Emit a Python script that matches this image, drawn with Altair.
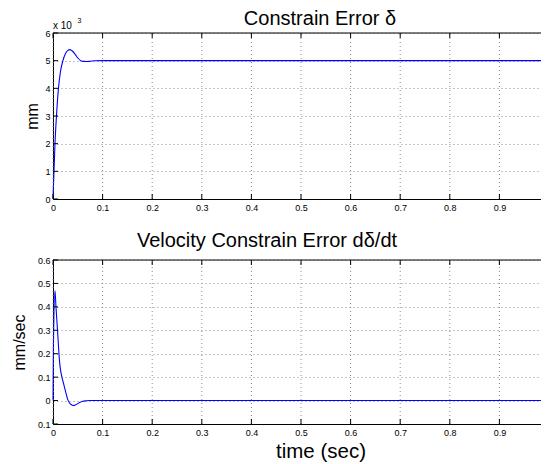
import altair as alt
import pandas as pd

# ---------------- data ----------------
t_pos = [0.0, 0.002, 0.004, 0.007, 0.011, 0.015, 0.020, 0.025, 0.030, 0.034,
         0.039, 0.045, 0.050, 0.056, 0.062, 0.068, 0.075, 0.085, 0.100, 1.0]
err_pos = [0.0, 1.0, 2.0, 3.0, 4.0, 4.6, 5.0, 5.25, 5.37, 5.40,
           5.35, 5.22, 5.10, 5.00, 4.975, 4.97, 4.98, 4.995, 5.0, 5.0]

t_vel = [0.0, 0.001, 0.004, 0.006, 0.008, 0.010, 0.012, 0.014, 0.016, 0.018,
         0.021, 0.024, 0.027, 0.030, 0.033, 0.037, 0.041, 0.045, 0.050, 0.055,
         0.060, 0.067, 0.075, 1.0]
err_vel = [0.0, 0.25, 0.47, 0.40, 0.335, 0.27, 0.20, 0.15, 0.12, 0.10,
           0.075, 0.05, 0.025, 0.003, -0.009, -0.018, -0.021, -0.019, -0.013, -0.007,
           -0.003, -0.001, 0.0, 0.0]

x_ticks = [0, 0.1, 0.2, 0.3, 0.4, 0.5, 0.6, 0.7, 0.8, 0.9, 1.0]
y_ticks_pos = [0, 1, 2, 3, 4, 5, 6]
y_ticks_vel = [-0.1, 0, 0.1, 0.2, 0.3, 0.4, 0.5, 0.6]

title_pos = "Constrain Error δ"
title_vel = "Velocity Constrain Error dδ/dt"
ylabel_pos = "mm"
ylabel_vel = "mm/sec"
xlabel = "time (sec)"
exp_base = "x 10"
exp_power = "3"

# ---------------- layout / style ----------------
VIEW_W, VIEW_H = 488, 391          # visible drawing area (rest is cut off, as in the original)
X_PX = [0, 496]                    # x axis runs past the right edge of the picture
TOP_PX = [166, 0]
BOT_PX = [391, 227]
FONT = "Liberation Sans"
INK = "#000000"
GRID = "#8c8c8c"
DASH = [1, 3]
BLUE = "#0000ff"

X_LABELS = "datum.value == 0 ? '0' : datum.value == 1 ? '1' : format(datum.value, '.1f')"


def panel(t, v, yticks, yrng, ytitle, ytitle_x, x_offset, with_xtitle,
          ylabel_expr, head, head_x, head_y, head_size):
    ydom = [yticks[0], yticks[-1]]
    xs = alt.Scale(domain=[0, 1], range=X_PX, nice=False, zero=False)
    ys = alt.Scale(domain=ydom, range=yrng, nice=False, zero=False)
    curve = pd.DataFrame({"t": t, "v": v})
    xt = pd.DataFrame({"x": x_ticks})
    yt = pd.DataFrame({"y": yticks})
    border = pd.DataFrame({"bx": [x_ticks[0], x_ticks[-1]], "by": [ydom[1], ydom[1]]})

    xaxis_kw = dict(orient="bottom", offset=x_offset, values=x_ticks, grid=False,
                    ticks=False, domainColor=INK, domainWidth=1,
                    labelExpr=X_LABELS, labelFont=FONT, labelFontSize=9,
                    labelColor=INK, labelPadding=4, labelFlush=False,
                    labelOverlap=False)
    if with_xtitle:
        xaxis_kw.update(title=xlabel, titleFont=FONT, titleFontSize=20.5,
                        titleFontWeight="normal", titleColor=INK,
                        titleX=267.5, titleY=33, titleAlign="center",
                        titleBaseline="alphabetic")
    else:
        xaxis_kw.update(title="")
    xaxis = alt.Axis(**xaxis_kw)

    yaxis_kw = dict(orient="left", values=yticks, grid=True, gridColor=GRID,
                    gridDash=DASH, gridWidth=1, ticks=False,
                    domainColor=INK, domainWidth=1, labelFont=FONT,
                    labelFontSize=9, labelColor=INK, labelPadding=3,
                    labelOverlap=False, title=ytitle, titleFont=FONT,
                    titleFontSize=16, titleFontWeight="normal", titleColor=INK,
                    titleAngle=270, titleAlign="center",
                    titleBaseline="alphabetic", titleX=ytitle_x,
                    titleY=(yrng[0] + yrng[1]) / 2)
    if ylabel_expr:
        yaxis_kw["labelExpr"] = ylabel_expr
    yaxis = alt.Axis(**yaxis_kw)

    line = alt.Chart(curve).mark_line(color=BLUE, strokeWidth=1.1,
                                      interpolate="monotone").encode(
        x=alt.X("t:Q", scale=xs, axis=xaxis),
        y=alt.Y("v:Q", scale=ys, axis=yaxis),
    )
    vgrid = alt.Chart(xt).mark_rule(color=GRID, strokeDash=DASH, strokeWidth=1).encode(
        x=alt.X("x:Q", scale=xs, axis=xaxis),
        y=alt.YDatum(ydom[0], scale=ys, axis=yaxis),
        y2=alt.Y2Datum(ydom[1]),
    )
    top_edge = alt.Chart(border).mark_line(color=INK, strokeWidth=1).encode(
        x=alt.X("bx:Q", scale=xs, axis=xaxis),
        y=alt.Y("by:Q", scale=ys, axis=yaxis),
    )
    ticks_top = alt.Chart(xt).mark_rule(color=INK, strokeWidth=1, y2Offset=5).encode(
        x=alt.X("x:Q", scale=xs, axis=xaxis),
        y=alt.YDatum(ydom[1], scale=ys, axis=yaxis),
        y2=alt.Y2Datum(ydom[1]),
    )
    ticks_bot = alt.Chart(xt).mark_rule(color=INK, strokeWidth=1, y2Offset=-5).encode(
        x=alt.X("x:Q", scale=xs, axis=xaxis),
        y=alt.YDatum(ydom[0], scale=ys, axis=yaxis),
        y2=alt.Y2Datum(ydom[0]),
    )
    ticks_left = alt.Chart(yt).mark_rule(color=INK, strokeWidth=1, x2Offset=5).encode(
        y=alt.Y("y:Q", scale=ys, axis=yaxis),
        x=alt.XDatum(0, scale=xs, axis=xaxis),
        x2=alt.X2Datum(0),
    )
    heading = alt.Chart(pd.DataFrame({"s": [head]})).mark_text(
        font=FONT, fontSize=head_size, align="center", baseline="alphabetic", color=INK
    ).encode(x=alt.value(head_x), y=alt.value(head_y), text="s:N")

    return [line, vgrid, top_edge, ticks_top, ticks_bot, ticks_left, heading]


top_layers = panel(t_pos, err_pos, y_ticks_pos, TOP_PX, ylabel_pos, -16,
                   -(VIEW_H - TOP_PX[0]), False, None, title_pos, 267, -8, 20)
exp1 = alt.Chart(pd.DataFrame({"s": [exp_base]})).mark_text(
    font=FONT, fontSize=10, align="left", baseline="alphabetic", color=INK
).encode(x=alt.value(0), y=alt.value(-4.5), text="s:N")
exp2 = alt.Chart(pd.DataFrame({"s": [exp_power]})).mark_text(
    font=FONT, fontSize=7, align="left", baseline="alphabetic", color=INK
).encode(x=alt.value(24.5), y=alt.value(-10.5), text="s:N")
top = alt.layer(*top_layers, exp1, exp2)

bot_layers = panel(t_vel, err_vel, y_ticks_vel, BOT_PX, ylabel_vel, -29, 0, True,
                   "datum.value == 0 ? '0' : format(abs(datum.value), '.1f')",
                   title_vel, 214, 214, 20)
bottom = alt.layer(*bot_layers)

chart = (
    alt.layer(top, bottom)
    .resolve_scale(x="independent", y="independent")
    .properties(
        width=VIEW_W,
        height=VIEW_H,
        autosize=alt.AutoSizeParams(type="none"),
        padding={"left": 45, "top": 25, "right": 0, "bottom": 40},
        background="white",
    )
    .configure_view(stroke=None)
)

chart.save("out.html", embed_options={"renderer": "svg", "actions": False})
